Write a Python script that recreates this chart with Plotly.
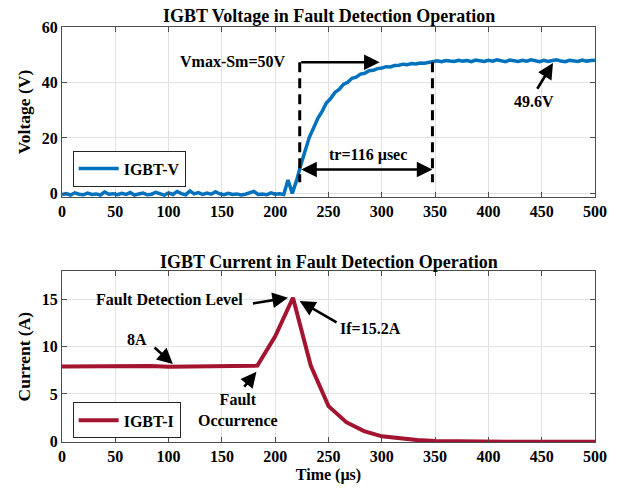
import plotly.graph_objects as go

# ---------------- data ----------------
# IGBT collector-emitter voltage, sampled every 4 us
t_v = list(range(0, 501, 4))
v_igbt = [
    -0.4, -0.1, -0.6, 0.2, -0.3, -0.5, 0.1, -0.4, -0.2, -0.6,
    0.5, -0.3, -0.1, -0.5, 0.0, -0.4, 0.3, -0.6, -0.2, 0.1,
    -0.5, -0.3, 0.4, -0.2, -0.6, 0.2, -0.4, 0.7, -0.1, -0.5,
    0.9, -0.2, 0.3, -0.4, 0.1, -0.3, 0.6, -0.2, -0.5, 0.0,
    -0.4, -0.2, -0.6, -0.3, 0.1, 0.7, -0.4, -0.2, -0.5, 0.2,
    -0.3, -0.1, -0.4,
    4.8, 0.0, 4.6, 10.2, 15.1, 20.2, 23.6, 27.1, 29.6, 32.6,
    34.2, 36.4, 37.5, 39.3, 40.1, 41.5, 41.9, 43.0, 43.3, 44.2,
    44.4, 45.0, 45.2, 45.7, 45.6, 46.1, 46.2, 46.6, 46.4, 46.8,
    46.7, 47.0, 46.9, 47.1,
    47.6, 47.8, 47.5, 47.9, 47.7, 47.6, 48.0, 47.7, 47.9, 47.5,
    48.1, 47.8, 47.6, 48.0, 47.7, 48.2, 47.8, 47.5, 48.1, 47.9,
    47.6, 48.0, 47.7, 48.2, 47.8, 47.5, 48.0, 47.6, 47.9, 48.2,
    47.7, 47.5, 48.0, 47.8, 47.6, 48.1, 47.7, 47.9, 48.0,
]

# IGBT current, sampled every 50/3 us
t_i = [0.0, 16.67, 33.33, 50.0, 66.67, 83.33, 100.0, 116.67, 133.33, 150.0,
       166.67, 183.33, 200.0, 216.67, 233.33, 250.0, 266.67, 283.33, 300.0, 316.67,
       333.33, 350.0, 366.67, 383.33, 400.0, 416.67, 433.33, 450.0, 466.67, 483.33, 500.0]
i_igbt = [7.9, 7.92, 7.95, 7.9, 7.95, 7.97, 7.88, 7.9, 7.95, 7.97,
          7.98, 8.0, 11.1, 15.2, 8.0, 3.7, 2.0, 1.05, 0.5, 0.25,
          0.1, 0.0, -0.04, -0.07, -0.08, -0.08, -0.08, -0.08, -0.08, -0.08, -0.08]

x_ticks = [0, 50, 100, 150, 200, 250, 300, 350, 400, 450, 500]
v_ticks = [0, 20, 40, 60]
i_ticks = [0, 5, 10, 15]

# ---------------- style ----------------
FONT = "Liberation Serif"
BLUE = "#0072BD"
RED = "#A2142F"
AXC = "#4d4d4d"
GRID = "#e2e2e2"


def tfont(size=16):
    return dict(family=FONT, size=size, color="black", weight="bold")


fig = go.Figure()
fig.add_trace(go.Scatter(x=t_v, y=v_igbt, mode="lines", name="IGBT-V",
                         line=dict(color=BLUE, width=3.5), xaxis="x", yaxis="y",
                         legend="legend"))
fig.add_trace(go.Scatter(x=t_i, y=i_igbt, mode="lines", name="IGBT-I",
                         line=dict(color=RED, width=4), xaxis="x2", yaxis="y2",
                         legend="legend2"))

axis_common = dict(showline=True, linecolor=AXC, linewidth=1, mirror="allticks",
                   ticks="inside", ticklen=5, tickcolor=AXC, showgrid=True,
                   gridcolor=GRID, gridwidth=1, zeroline=False, tickfont=tfont(16))

legend_common = dict(xanchor="left", yanchor="middle", bgcolor="white",
                     bordercolor="#262626", borderwidth=1, font=tfont(16),
                     tracegroupgap=0, itemwidth=40)

fig.update_layout(
    width=618, height=491,
    margin=dict(l=62, r=23, t=27, b=49),
    paper_bgcolor="white", plot_bgcolor="white",
    xaxis=dict(domain=[0, 1], anchor="y", range=[0, 500], tickvals=x_ticks, **axis_common),
    yaxis=dict(domain=[0.5904, 1], anchor="x", range=[-1.3, 60], tickvals=v_ticks,
               title=dict(text="Voltage (V)", font=tfont(17.5), standoff=6), **axis_common),
    xaxis2=dict(domain=[0, 1], anchor="y2", range=[0, 500], tickvals=x_ticks,
                title=dict(text="Time (µs)", font=tfont(16), standoff=4), **axis_common),
    yaxis2=dict(domain=[0, 0.4113], anchor="x2", range=[-0.1, 18], tickvals=i_ticks,
                title=dict(text="Current (A)", font=tfont(17.5), standoff=6), **axis_common),
    legend=dict(x=0.02, y=0.659, **legend_common),
    legend2=dict(x=0.02, y=0.052, **legend_common),
    showlegend=True,
)

# subplot titles
fig.add_annotation(text="IGBT Voltage in Fault Detection Operation", xref="paper", yref="paper",
                   x=0.5, y=1.0265, xanchor="center", yanchor="middle", showarrow=False,
                   font=tfont(18))
fig.add_annotation(text="IGBT Current in Fault Detection Operation", xref="paper", yref="paper",
                   x=0.5, y=0.4337, xanchor="center", yanchor="middle", showarrow=False,
                   font=tfont(18))

# rise-time markers on the voltage plot
t_start, t_end = 223, 347.5
v_top, v_bot = 47.3, 4.0
for tx in (t_start, t_end):
    fig.add_shape(type="line", xref="x", yref="y", x0=tx, x1=tx, y0=v_top, y1=v_bot,
                  line=dict(color="black", width=3, dash="10px,6px"))


def arrow(x, y, ax, ay, xr="x", yr="y", side="end"):
    fig.add_annotation(x=x, y=y, ax=ax, ay=ay, xref=xr, yref=yr, axref=xr, ayref=yr,
                       text="", showarrow=True, arrowhead=2, arrowsize=1.2,
                       arrowwidth=2.6, arrowcolor="black", arrowside=side, standoff=0,
                       startstandoff=0)


def label(text, x, y, xr="x", yr="y"):
    fig.add_annotation(text=text, x=x, y=y, xref=xr, yref=yr, showarrow=False,
                       xanchor="center", yanchor="middle", font=tfont(16))


arrow(298, v_top, t_start, v_top)
arrow(t_end, 8.6, t_start, 8.6, side="end+start")
arrow(460.6, 47.0, 445, 37.2)
label("Vmax-Sm=50V", 160.4, 47.6)
label("tr=116 µsec", 287.5, 13.8)
label("49.6V", 442.5, 33.0)

# annotations on the current plot
arrow(212, 15.2, 177.7, 14.57, "x2", "y2")
arrow(223, 14.85, 259, 12.5, "x2", "y2")
arrow(104, 8.16, 85.4, 10.06, "x2", "y2")
arrow(182.4, 7.35, 169.8, 5.6, "x2", "y2")
label("Fault Detection Level", 101, 15.0, "x2", "y2")
label("If=15.2A", 289.4, 11.9, "x2", "y2")
label("8A", 70.5, 10.8, "x2", "y2")
label("Fault<br>Occurrence", 165, 3.3, "x2", "y2")

fig.write_html("out.html")
